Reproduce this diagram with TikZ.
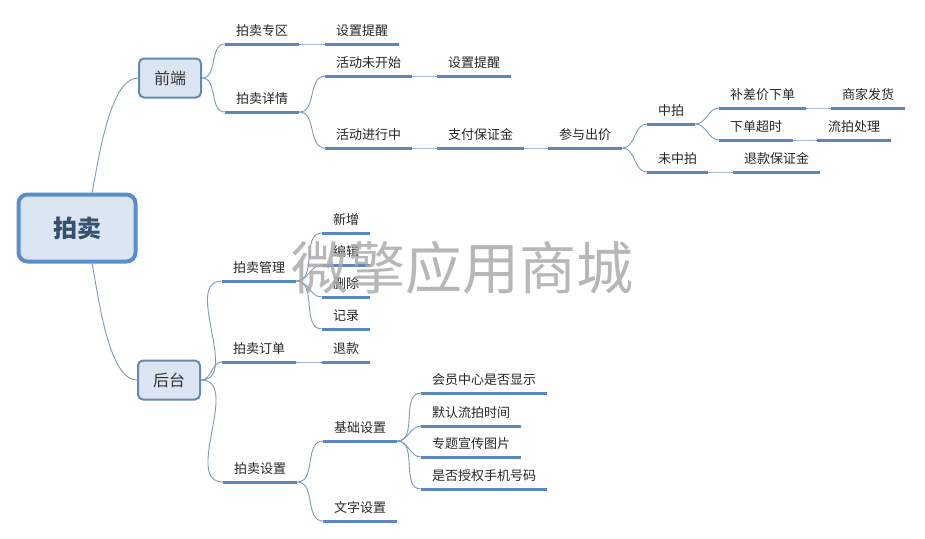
\documentclass[tikz,border=0pt]{standalone}
\usepackage{fontspec}
\setmainfont{Noto Sans CJK SC}
\definecolor{boxfill}{HTML}{DCE6F2}
\definecolor{boxline}{HTML}{5B8CCC}
\definecolor{subline}{HTML}{6489B3}
\definecolor{uline}{HTML}{5C87BA}
\definecolor{conn}{HTML}{7D9AB9}
\definecolor{roottext}{HTML}{35516F}
\tikzset{
  rootbox/.style={draw=boxline,line width=4pt,fill=boxfill,rounded corners=9pt,
    minimum width=117pt,minimum height=67pt,font=\fontsize{24}{26}\selectfont\bfseries,text=roottext},
  subbox/.style={draw=subline,line width=2pt,fill=boxfill,rounded corners=5pt,
    minimum width=62pt,minimum height=39pt,font=\fontsize{16}{18}\selectfont,text=black!80},
  leaf/.style={anchor=south west,inner xsep=11pt,inner ysep=5pt,text depth=3pt,
    font=\fontsize{13}{15}\selectfont,text=black!85}
}
\begin{document}
\begin{tikzpicture}[x=1pt,y=-1pt]
    \useasboundingbox[fill=white] (0,0) rectangle (925,538);
    % main boxes
    \node[rootbox] (pm) at (77,228) {拍卖};
    \node[subbox] (qd) at (170,78) {前端};
    \node[subbox] (ht) at (169,380) {后台};
    % front end
    \begin{scope}[every node/.style={leaf}]
      \node (zq) at (225,44) {拍卖专区};
      \node (zqtx) at (325,44) {设置提醒};
      \node (xq) at (225,112) {拍卖详情};
      \node (wks) at (325,76) {活动未开始};
      \node (wkstx) at (437,76) {设置提醒};
      \node (jxz) at (325,148) {活动进行中};
      \node (bzj) at (437,148) {支付保证金};
      \node (cy) at (548,148) {参与出价};
      \node (zp) at (647,124) {中拍};
      \node (wzp) at (647,172) {未中拍};
      \node (bcj) at (719,108) {补差价下单};
      \node (cs) at (719,140) {下单超时};
      \node (fh) at (831,108) {商家发货};
      \node (lp) at (817,140) {流拍处理};
      \node (tbzj) at (733,172) {退款保证金};
    \end{scope}
    % back end
    \begin{scope}[every node/.style={leaf}]
      \node (gl) at (222,281) {拍卖管理};
      \node (xz) at (322,233) {新增};
      \node (bj) at (322,265) {编辑};
      \node (sc) at (322,297) {删除};
      \node (jl) at (322,329) {记录};
      \node (dd) at (222,362) {拍卖订单};
      \node (tk) at (322,362) {退款};
      \node (sz) at (223,482) {拍卖设置};
      \node (jc) at (323,441) {基础设置};
      \node (wz) at (323,521) {文字设置};
      \node (hy) at (421,393) {会员中心是否显示};
      \node (mr) at (421,426) {默认流拍时间};
      \node (zt) at (421,457) {专题宣传图片};
      \node (sq) at (421,489) {是否授权手机号码};
    \end{scope}
    % underlines
    \foreach \n in {zq,zqtx,xq,wks,wkstx,jxz,bzj,cy,zp,wzp,bcj,cs,fh,lp,tbzj,
                    gl,xz,bj,sc,jl,dd,tk,sz,jc,wz,hy,mr,zt,sq}
      \draw[uline,line width=3pt] (\n.south west) -- (\n.south east);
    % connectors
    \begin{scope}[every edge/.style={draw=conn,line width=0.9pt,out=0,in=180}]
      \path ([xshift=15pt]pm.north) edge[out=78,looseness=0.6] (qd.west);
      \path ([xshift=15pt]pm.south) edge[out=-78,looseness=0.6] (ht.west);
      \path (qd.east) edge (zq.south west);
      \path (qd.east) edge (xq.south west);
      \path (zq.south east) edge (zqtx.south west);
      \path (xq.south east) edge (wks.south west);
      \path (xq.south east) edge (jxz.south west);
      \path (wks.south east) edge (wkstx.south west);
      \path (jxz.south east) edge (bzj.south west);
      \path (bzj.south east) edge (cy.south west);
      \path (cy.south east) edge (zp.south west);
      \path (cy.south east) edge (wzp.south west);
      \path (zp.south east) edge (bcj.south west);
      \path (zp.south east) edge (cs.south west);
      \path (bcj.south east) edge (fh.south west);
      \path (cs.south east) edge (lp.south west);
      \path (wzp.south east) edge (tbzj.south west);
      \path (ht.east) edge (gl.south west);
      \path (ht.east) edge (dd.south west);
      \path (ht.east) edge (sz.south west);
      \path (gl.south east) edge (xz.south west);
      \path (gl.south east) edge (bj.south west);
      \path (gl.south east) edge (sc.south west);
      \path (gl.south east) edge (jl.south west);
      \path (dd.south east) edge (tk.south west);
      \path (sz.south east) edge (jc.south west);
      \path (sz.south east) edge (wz.south west);
      \path (jc.south east) edge (hy.south west);
      \path (jc.south east) edge (mr.south west);
      \path (jc.south east) edge (zt.south west);
      \path (jc.south east) edge (sq.south west);
    \end{scope}
    % watermark
    \node[text=black!33,opacity=0.85,font=\fontsize{57}{60}\selectfont] (wm) at (462,268) {微擎应用商城};
\end{tikzpicture}
\end{document}
